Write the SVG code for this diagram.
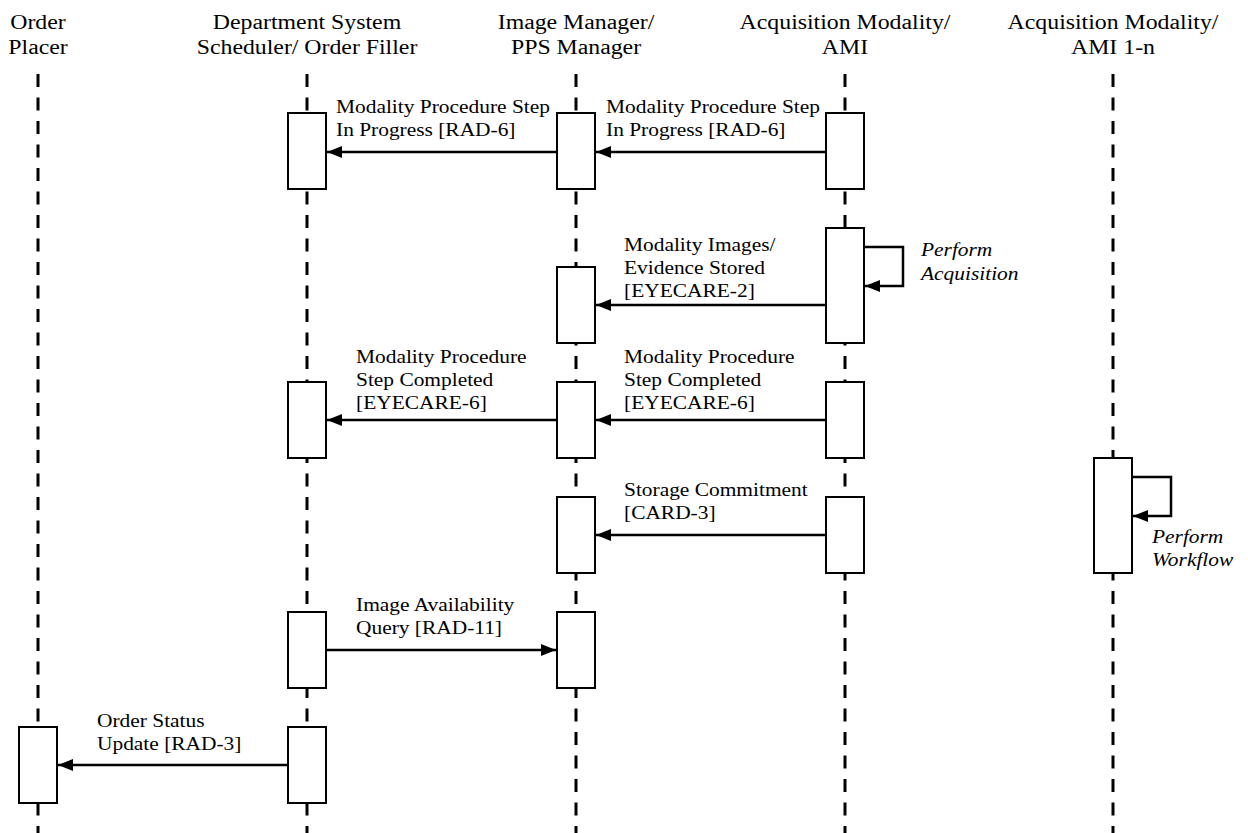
<svg xmlns="http://www.w3.org/2000/svg" width="1248" height="833" viewBox="0 0 1248 833">
<style>
text{font-family:"Liberation Serif","Times New Roman",serif;font-size:18px;fill:#000}
.hd{font-size:20px;text-anchor:middle}
.i{font-style:italic}
.life{stroke:#000;stroke-width:3;stroke-dasharray:13 10.5;fill:none}
.box{fill:#fff;stroke:#000;stroke-width:2}
.msg{stroke:#000;stroke-width:2.5;fill:none}
</style>
<defs>
<marker id="ah" markerUnits="userSpaceOnUse" markerWidth="16" markerHeight="14" refX="15" refY="7" orient="auto">
<path d="M0,1 L15,7 L0,13 z" fill="#000"/>
</marker>
</defs>
<rect width="1248" height="833" fill="#fff"/>
<g id="lifelines">
<line class="life" x1="38" y1="74" x2="38" y2="833"/>
<line class="life" x1="307" y1="74" x2="307" y2="833"/>
<line class="life" x1="576" y1="74" x2="576" y2="833"/>
<line class="life" x1="845" y1="74" x2="845" y2="833"/>
<line class="life" x1="1113" y1="74" x2="1113" y2="833"/>
</g>
<g id="header-op"><text class="hd" transform="translate(38,29) scale(1.19,1)">Order</text><text class="hd" transform="translate(38,54) scale(1.19,1)">Placer</text></g>
<g id="header-ds"><text class="hd" transform="translate(307,29) scale(1.19,1)">Department System</text><text class="hd" transform="translate(307,54) scale(1.19,1)">Scheduler/ Order Filler</text></g>
<g id="header-im"><text class="hd" transform="translate(576,29) scale(1.19,1)">Image Manager/</text><text class="hd" transform="translate(576,54) scale(1.19,1)">PPS Manager</text></g>
<g id="header-am"><text class="hd" transform="translate(845,29) scale(1.19,1)">Acquisition Modality/</text><text class="hd" transform="translate(845,54) scale(1.19,1)">AMI</text></g>
<g id="header-ami"><text class="hd" transform="translate(1113,29) scale(1.19,1)">Acquisition Modality/</text><text class="hd" transform="translate(1113,54) scale(1.19,1)">AMI 1-n</text></g>
<g id="activations">
<rect class="box" x="288" y="113" width="38" height="76"/>
<rect class="box" x="557" y="113" width="38" height="76"/>
<rect class="box" x="826" y="113" width="38" height="76"/>
<rect class="box" x="826" y="228" width="38" height="115"/>
<rect class="box" x="557" y="267" width="38" height="76"/>
<rect class="box" x="288" y="382" width="38" height="76"/>
<rect class="box" x="557" y="382" width="38" height="76"/>
<rect class="box" x="826" y="382" width="38" height="76"/>
<rect class="box" x="1094" y="458" width="38" height="115"/>
<rect class="box" x="557" y="497" width="38" height="76"/>
<rect class="box" x="826" y="497" width="38" height="76"/>
<rect class="box" x="288" y="612" width="38" height="76"/>
<rect class="box" x="557" y="612" width="38" height="76"/>
<rect class="box" x="19" y="727" width="38" height="76"/>
<rect class="box" x="288" y="727" width="38" height="76"/>
</g>
<g id="connectors">
<line class="msg" x1="557" y1="152" x2="327" y2="152" marker-end="url(#ah)"/>
<line class="msg" x1="826" y1="152" x2="596" y2="152" marker-end="url(#ah)"/>
<line class="msg" x1="826" y1="305" x2="596" y2="305" marker-end="url(#ah)"/>
<polyline class="msg" points="864,247 903,247 903,286 865,286" marker-end="url(#ah)"/>
<line class="msg" x1="557" y1="420" x2="327" y2="420" marker-end="url(#ah)"/>
<line class="msg" x1="826" y1="420" x2="596" y2="420" marker-end="url(#ah)"/>
<line class="msg" x1="826" y1="535" x2="596" y2="535" marker-end="url(#ah)"/>
<polyline class="msg" points="1132,477 1171,477 1171,516 1133,516" marker-end="url(#ah)"/>
<line class="msg" x1="326" y1="650" x2="556" y2="650" marker-end="url(#ah)"/>
<line class="msg" x1="288" y1="765" x2="58" y2="765" marker-end="url(#ah)"/>
</g>
<g id="labels">
<text transform="translate(336,113) scale(1.19,1)">Modality Procedure Step</text><text transform="translate(336,136) scale(1.19,1)">In Progress [RAD-6]</text>
<text transform="translate(606,113) scale(1.19,1)">Modality Procedure Step</text><text transform="translate(606,136) scale(1.19,1)">In Progress [RAD-6]</text>
<text transform="translate(624,251) scale(1.19,1)">Modality Images/</text><text transform="translate(624,274) scale(1.19,1)">Evidence Stored</text><text transform="translate(624,297) scale(1.19,1)">[EYECARE-2]</text>
<text class="i" transform="translate(921,256) scale(1.19,1)">Perform</text><text class="i" transform="translate(921,280) scale(1.19,1)">Acquisition</text>
<text transform="translate(356,363) scale(1.19,1)">Modality Procedure</text><text transform="translate(356,386) scale(1.19,1)">Step Completed</text><text transform="translate(356,409) scale(1.19,1)">[EYECARE-6]</text>
<text transform="translate(624,363) scale(1.19,1)">Modality Procedure</text><text transform="translate(624,386) scale(1.19,1)">Step Completed</text><text transform="translate(624,409) scale(1.19,1)">[EYECARE-6]</text>
<text transform="translate(624,496) scale(1.19,1)">Storage Commitment</text><text transform="translate(624,519) scale(1.19,1)">[CARD-3]</text>
<text class="i" transform="translate(1152,543) scale(1.19,1)">Perform</text><text class="i" transform="translate(1152,566) scale(1.19,1)">Workflow</text>
<text transform="translate(356,611) scale(1.19,1)">Image Availability</text><text transform="translate(356,634) scale(1.19,1)">Query [RAD-11]</text>
<text transform="translate(97,727) scale(1.19,1)">Order Status</text><text transform="translate(97,750) scale(1.19,1)">Update [RAD-3]</text>
</g>
</svg>
